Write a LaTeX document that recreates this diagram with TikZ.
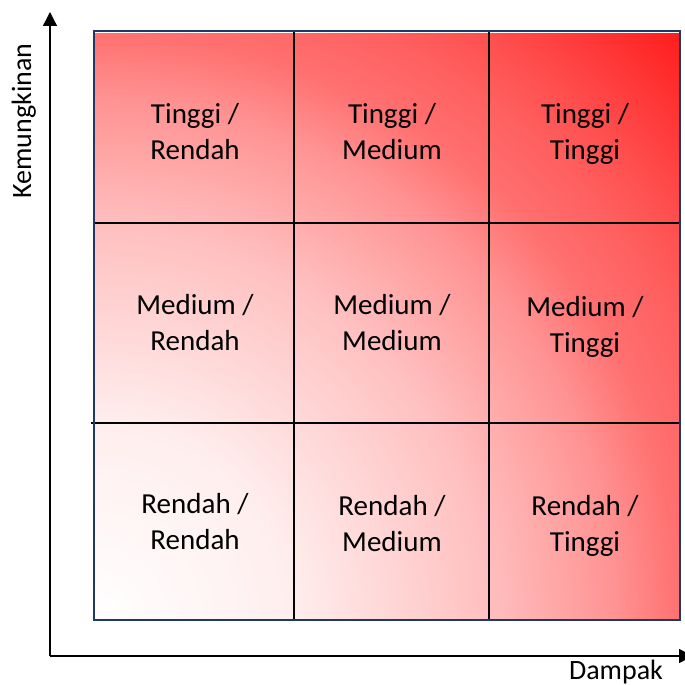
\documentclass[tikz,border=0pt]{standalone}
\usepackage{fontspec}
\setmainfont{Carlito}
\usetikzlibrary{arrows.meta}
\pgfdeclareradialshading{riskshade}{\pgfpoint{0bp}{0bp}}{%
rgb(0bp)=(1,1,1);
rgb(8.33bp)=(1,0.933,0.933);
rgb(16.67bp)=(1,0.753,0.753);
rgb(22.25bp)=(1,0.573,0.573);
rgb(25bp)=(1,0.44,0.44);
rgb(28bp)=(1,0.37,0.37);
rgb(30bp)=(1,0.31,0.31);
rgb(35.5bp)=(1,0.11,0.11);
rgb(50bp)=(1,0.11,0.11)}
\definecolor{navy}{RGB}{31,56,100}
\tikzset{
  celltext/.style={align=center,font=\fontsize{29}{36}\selectfont,text=black},
  axislabel/.style={font=\fontsize{28}{34}\selectfont,text=black,inner sep=0pt},
  gridline/.style={black,line width=2pt},
  axisline/.style={black,line width=1.3pt,-{Triangle[width=14pt,length=14pt]}},
}
\begin{document}
\begin{tikzpicture}[x=1pt,y=-1pt]
\useasboundingbox (0,0) rectangle (685,685);
% shaded square
\begin{scope}
\clip (94,31) rectangle (680,620);
\shade[shading=riskshade] (-492,34) rectangle (680,1206);
\end{scope}
% grid
\draw[gridline] (294,31) -- (294,620);
\draw[gridline] (489,31) -- (489,620);
\draw[gridline] (94,223) -- (680,223);
\draw[gridline] (91,423) -- (680,423);
\draw[navy,line width=2.5pt] (94,31) rectangle (680,620);
% axes
\coordinate (origin) at (50,656);
\coordinate (ytip) at (50,12);
\coordinate (xtip) at (693,656);
\draw[axisline] (origin) -- (ytip);
\draw[axisline] (origin) -- (xtip);
\node[axislabel,rotate=90,anchor=base] (ylab) at (31,121) {Kemungkinan};
\node[axislabel,anchor=base] (xlab) at (616,679) {Dampak};
% cells
\node[celltext] (c11) at (195,132) {Tinggi /\\Rendah};
\node[celltext] (c12) at (392,132) {Tinggi /\\Medium};
\node[celltext] (c13) at (585,134) {Tinggi /\\Tinggi};
\node[celltext] (c21) at (195,323) {Medium /\\Rendah};
\node[celltext] (c22) at (392,323) {Medium /\\Medium};
\node[celltext] (c23) at (585,327) {Medium /\\Tinggi};
\node[celltext] (c31) at (195,522) {Rendah /\\Rendah};
\node[celltext] (c32) at (392,524) {Rendah /\\Medium};
\node[celltext] (c33) at (585,526) {Rendah /\\Tinggi};
\end{tikzpicture}
\end{document}
